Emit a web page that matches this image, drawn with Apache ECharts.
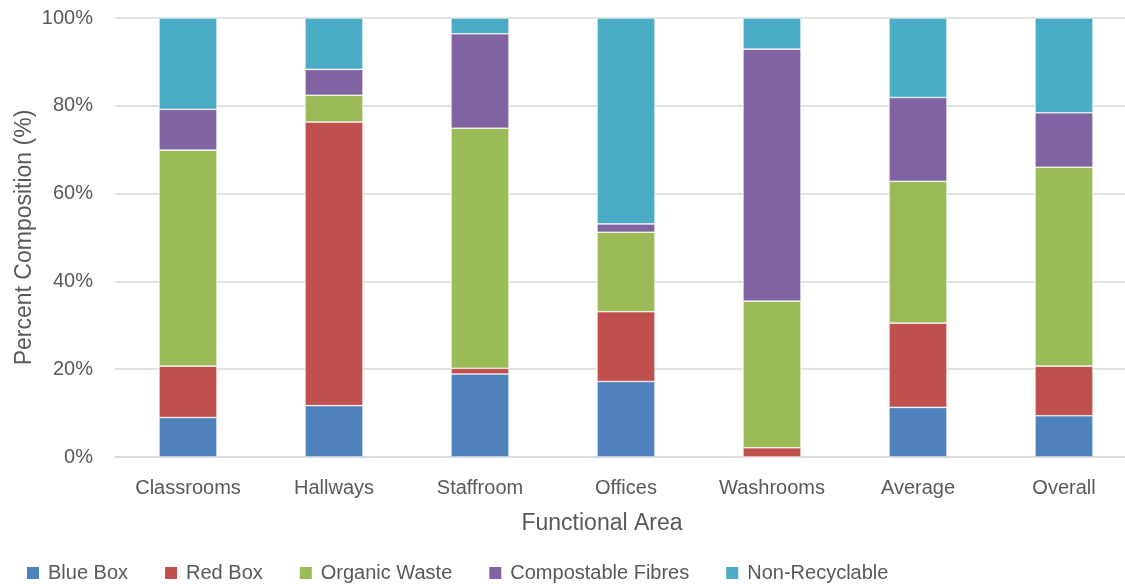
<!DOCTYPE html>
<html>
<head>
<meta charset="utf-8">
<script src="https://cdn.jsdelivr.net/npm/echarts@6/dist/echarts.min.js"></script>
<style>
  html, body { margin: 0; padding: 0; background: #fff; }
  #chart { width: 1125px; height: 584px; }
</style>
</head>
<body>
<div id="chart"></div>
<script>
const areas = ['Classrooms', 'Hallways', 'Staffroom', 'Offices', 'Washrooms', 'Average', 'Overall'];

// percent composition per functional area
const blueBox = [9.0, 11.7, 18.9, 17.2, 0.0, 11.3, 9.4];
const redBox = [11.7, 64.6, 1.3, 15.9, 2.1, 19.2, 11.3];
const organicWaste = [49.2, 6.1, 54.7, 18.1, 33.4, 32.3, 45.3];
const compostableFibres = [9.3, 5.9, 21.5, 1.9, 57.4, 19.1, 12.4];
const nonRecyclable = [20.8, 11.7, 3.6, 46.9, 7.1, 18.1, 21.6];

const seriesList = [
    { name: 'Blue Box', data: blueBox, color: '#4F81BD' },
    { name: 'Red Box', data: redBox, color: '#C0504D' },
    { name: 'Organic Waste', data: organicWaste, color: '#9BBB59' },
    { name: 'Compostable Fibres', data: compostableFibres, color: '#8064A2' },
    { name: 'Non-Recyclable', data: nonRecyclable, color: '#4BACC6' },
];

const font = '"Liberation Sans", Arial, sans-serif';
const textColor = '#595959';

const chart = echarts.init(document.getElementById('chart'));

chart.setOption({
    animation: false,
    textStyle: { fontFamily: font },
    grid: { left: 115, top: 18, width: 1022, height: 439, outerBoundsMode: 'none' },
    legend: {
        left: 20,
        top: 558,
        itemWidth: 14,
        itemHeight: 14,
        itemGap: 35,
        icon: 'rect',
        textStyle: { fontSize: 20, color: textColor, fontFamily: font, padding: [0, 0, 0, 3] },
        data: seriesList.map(s => s.name)
    },
    xAxis: {
        type: 'category',
        data: areas,
        name: 'Functional Area',
        nameLocation: 'middle',
        nameGap: 55,
        nameMoveOverlap: false,
        nameTextStyle: { fontSize: 23, color: textColor, padding: [0, 48, 0, 0] },
        axisLine: { lineStyle: { color: '#D9D9D9', width: 1.5 } },
        axisTick: { show: false },
        axisLabel: { fontSize: 20, color: textColor, margin: 21 }
    },
    yAxis: {
        type: 'value',
        min: 0,
        max: 100,
        interval: 20,
        name: 'Percent Composition (%)',
        nameLocation: 'middle',
        nameGap: 79,
        nameMoveOverlap: false,
        nameTextStyle: { fontSize: 23, color: textColor },
        axisLine: { show: false },
        axisTick: { show: false },
        axisLabel: { fontSize: 20, color: textColor, margin: 22, formatter: '{value}%' },
        splitLine: { lineStyle: { color: '#D9D9D9', width: 1.5 } }
    },
    series: seriesList.map(s => ({
        name: s.name,
        type: 'bar',
        stack: 'total',
        barWidth: 58,
        data: s.data,
        itemStyle: { color: s.color, borderColor: '#ffffff', borderWidth: 0.6 }
    }))
});
</script>
</body>
</html>
